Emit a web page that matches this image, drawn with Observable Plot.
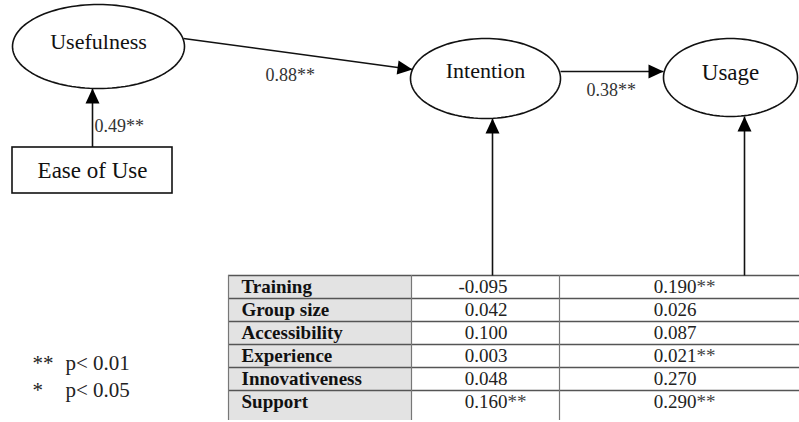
<!DOCTYPE html>
<html><head><meta charset="utf-8">
<script src="https://cdn.jsdelivr.net/npm/d3@7"></script>
<script src="https://cdn.jsdelivr.net/npm/@observablehq/plot@0.6"></script>
<style>
html,body{margin:0;padding:0;background:#fff;overflow:hidden}
#chart svg{display:block;overflow:hidden}
</style>
</head><body><div id="chart"></div>
<script>
// ---------- data ----------
const constructs = ["Usefulness", "Intention", "Usage"];
const exogenous = ["Ease of Use"];
const pathFrom = ["Ease of Use", "Usefulness", "Intention"];
const pathTo = ["Usefulness", "Intention", "Usage"];
const pathCoef = [0.49, 0.88, 0.38];
const pathSig = ["**", "**", "**"];
const predictors = ["Training", "Group size", "Accessibility", "Experience", "Innovativeness", "Support"];
const intentionCoef = [-0.095, 0.042, 0.100, 0.003, 0.048, 0.160];
const intentionSig = ["", "", "", "", "", "**"];
const usageCoef = [0.190, 0.026, 0.087, 0.021, 0.270, 0.290];
const usageSig = ["**", "", "", "**", "", "**"];
const sigMarks = ["**", "*"];
const sigLabels = ["p< 0.01", "p< 0.05"];

// ---------- layout ----------
const W = 799, H = 422;
const SERIF = "Liberation Serif, Times New Roman, serif";
const ellipseGeom = {
  Usefulness: {cx: 98, cy: 46, rx: 86, ry: 42, ty: 41, fs: 22},
  Intention: {cx: 485, cy: 78, rx: 75, ry: 40, ty: 70, fs: 22},
  Usage: {cx: 730, cy: 77, rx: 67, ry: 39, ty: 72, fs: 23}
};
const boxGeom = {"Ease of Use": {x1: 12, y1: 147, x2: 172, y2: 193, fs: 23}};
const pathGeom = [
  {x1: 92, y1: 147, x2: 92, y2: 88, lx: 94, ly: 126},
  {x1: 183, y1: 38, x2: 412, y2: 69, lx: 265, ly: 75},
  {x1: 560, y1: 71, x2: 663, y2: 71, lx: 586, ly: 90}
];
const tbl = {top: 275, rowH: 23, cols: [228, 411, 559, W], bottom: 420, labelX: 241, numEnd: [507, 696]};
const tableArrows = [{x: 492, y1: 275, y2: 118}, {x: 744, y1: 275, y2: 116}];
const legendGeom = {markX: 32, labelX: 65, y0: 363, dy: 27};

// ---------- derived tables ----------
const ellipsePts = constructs.flatMap(name => {
  const g = ellipseGeom[name];
  return d3.range(0, 361, 3).map(a => ({name, x: g.cx + g.rx * Math.cos(a * Math.PI / 180), y: g.cy + g.ry * Math.sin(a * Math.PI / 180)}));
});
const nodeLabels = [
  ...constructs.map(name => ({name, x: ellipseGeom[name].cx, y: ellipseGeom[name].ty, fs: ellipseGeom[name].fs})),
  ...exogenous.map(name => ({name, x: (boxGeom[name].x1 + boxGeom[name].x2) / 2, y: (boxGeom[name].y1 + boxGeom[name].y2) / 2, fs: boxGeom[name].fs}))
];
const boxes = exogenous.map(name => ({name, ...boxGeom[name]}));
const paths = pathFrom.map((f, i) => ({from: f, to: pathTo[i], label: pathCoef[i].toFixed(2) + pathSig[i], ...pathGeom[i]}));
const links = [
  ...paths.map(p => ({x1: p.x1, y1: p.y1, x2: p.x2, y2: p.y2})),
  ...tableArrows.map(a => ({x1: a.x, y1: a.y1, x2: a.x, y2: a.y2}))
];
const heads = links.map(l => ({x: l.x2, y: l.y2, angle: Math.atan2(l.x2 - l.x1, -(l.y2 - l.y1)) * 180 / Math.PI}));
const arrowHead = {draw(ctx) { const L = 15, w = 7; ctx.moveTo(0, 0); ctx.lineTo(w, L); ctx.lineTo(-w, L); ctx.closePath(); }};

const rows = predictors.map((p, i) => ({
  predictor: p, i,
  yc: tbl.top + tbl.rowH * i + tbl.rowH / 2,
  ytop: tbl.top + tbl.rowH * i,
  int: intentionCoef[i].toFixed(3), intSig: intentionSig[i],
  use: usageCoef[i].toFixed(3), useSig: usageSig[i]
}));
const legend = sigMarks.map((m, i) => ({mark: m, label: sigLabels[i], y: legendGeom.y0 + legendGeom.dy * i}));

const chart = Plot.plot({
  width: W, height: H, margin: 0,
  x: {domain: [0, W], range: [0, W], axis: null},
  y: {domain: [0, H], range: [0, H], axis: null},
  style: {background: "#fff"},
  marks: [
    // table
    Plot.rect([{}], {x1: tbl.cols[0], x2: tbl.cols[1], y1: tbl.top, y2: tbl.bottom, fill: "#e3e3e3"}),
    Plot.ruleY(rows, {y: "ytop", x1: tbl.cols[0], x2: tbl.cols[3], stroke: "#555", strokeWidth: 1.3}),
    Plot.ruleX(tbl.cols.slice(0, 3), {x: d => d, y1: tbl.top, y2: tbl.bottom, stroke: "#777", strokeWidth: 1.2}),
    Plot.text(rows, {x: tbl.labelX, y: "yc", text: "predictor", textAnchor: "start", fontFamily: SERIF, fontWeight: "bold", fontSize: 19, fill: "#111"}),
    Plot.text(rows, {x: tbl.numEnd[0], y: "yc", text: "int", textAnchor: "end", fontFamily: SERIF, fontSize: 19, fill: "#222"}),
    Plot.text(rows, {x: tbl.numEnd[0], y: "yc", text: "intSig", textAnchor: "start", fontFamily: SERIF, fontSize: 19, fill: "#444"}),
    Plot.text(rows, {x: tbl.numEnd[1], y: "yc", text: "use", textAnchor: "end", fontFamily: SERIF, fontSize: 19, fill: "#222"}),
    Plot.text(rows, {x: tbl.numEnd[1], y: "yc", text: "useSig", textAnchor: "start", fontFamily: SERIF, fontSize: 19, fill: "#444"}),
    // arrows
    Plot.link(links, {x1: "x1", y1: "y1", x2: "x2", y2: "y2", stroke: "#111", strokeWidth: 1.6}),
    Plot.dot(heads, {x: "x", y: "y", rotate: "angle", symbol: arrowHead, r: 5, fill: "#000", stroke: "none"}),
    Plot.text(paths, {x: "lx", y: "ly", text: "label", textAnchor: "start", fontFamily: SERIF, fontSize: 18, fill: "#333"}),
    // nodes
    Plot.line(ellipsePts, {x: "x", y: "y", z: "name", stroke: "#111", strokeWidth: 1.6, fill: "#fff"}),
    Plot.rect(boxes, {x1: "x1", x2: "x2", y1: "y1", y2: "y2", stroke: "#111", strokeWidth: 1.6, fill: "#fff"}),
    ...nodeLabels.map(n => Plot.text([n], {x: "x", y: "y", text: "name", fontFamily: SERIF, fontSize: n.fs, fill: "#111"})),
    // legend
    Plot.text(legend, {x: legendGeom.markX, y: "y", text: "mark", textAnchor: "start", fontFamily: SERIF, fontSize: 21, fill: "#222"}),
    Plot.text(legend, {x: legendGeom.labelX, y: "y", text: "label", textAnchor: "start", fontFamily: SERIF, fontSize: 21, fill: "#222"})
  ]
});
document.getElementById("chart").append(chart);
</script>
</body></html>
